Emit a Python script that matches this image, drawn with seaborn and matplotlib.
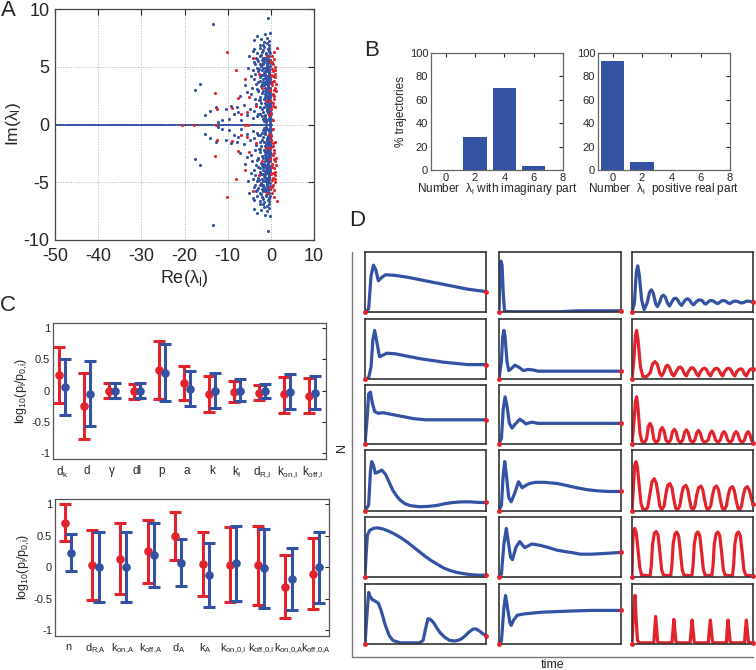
import numpy as np
import pandas as pd
import matplotlib
matplotlib.use('Agg')
import matplotlib.pyplot as plt
import seaborn as sns
from matplotlib.lines import Line2D

sns.set_style('white')
plt.rcParams['font.family'] = ['Liberation Sans', 'DejaVu Sans']
plt.rcParams['mathtext.fontset'] = 'custom'
plt.rcParams['mathtext.rm'] = 'Liberation Sans'
plt.rcParams['mathtext.it'] = 'Liberation Sans:italic'
plt.rcParams['axes.unicode_minus'] = False

W, H = 756, 670
BLUE = '#3452a3'
RED = '#e3232b'

# ---- panel A : eigenvalues (upper half plane, conjugates mirrored) ----
blue_re = [-0.2, -0.5, -0.9, -1.3, -1.8, -2.4, -3.1, -4.2, -5.5, -6.8,
           -0.1, -0.7, -1.1, -1.6, -2.1, -7.5, -8.6, -9.8, -11.2, -12.3,
           -0.3, -0.6, -1.0, -1.4, -1.9, -2.6, -3.4, -4.8, -6.2, -7.9,
           -0.15, -0.8, -1.2, -2.2, -3.8, -9.2, -10.5, -12.6, -14.1, -15.2,
           -0.2, -0.5, -0.9, -1.2, -1.6, -2.0, -2.5, -3.0, -3.7, -4.5,
           -0.4, -0.7, -1.1, -1.4, -1.8, -2.8, -5.6, -7.1, -16.5, -17.5,
           -0.1, -0.4, -0.8, -1.1, -1.5, -1.9, -2.3, -2.9, -3.5, -4.3,
           -0.3, -0.6, -1.0, -1.3, -1.7, -2.1, -2.6, -3.2, -4.0, -6.0,
           -0.2, -0.5, -0.9, -1.2, -1.6, -2.0, -2.4, -2.9, -3.6, -4.6,
           -0.4, -0.7, -1.0, -1.4, -1.8, -2.2, -2.7, -3.3, -4.1, -5.2,
           -0.2, -0.6, -0.9, -1.3, -1.7, -2.1, -2.6, -3.2, -4.0, -5.0,
           -0.4, -0.8, -1.1, -1.5, -1.9, -2.4, -2.9, -3.6, -0.1, -1.0,
           -0.3, -0.7, -1.1, -1.5, -2.0, -2.6, -3.3, -4.2, -0.5, -1.8,
           -0.4, -1.0, -1.6, -2.3, -3.1, -4.0, -0.3, -1.3, -0.6, -13.5,
           -0.05, -0.25, -0.45, -0.65, -0.85, -1.05, -1.25, -1.45, -0.35, -0.75,
           -0.15, -0.55, -0.95, -1.35, -0.3, -0.7, -1.15, -0.2, -0.6, -1.0,
           -0.1, -0.5, -0.9, -1.7, -0.35, -0.8, -1.2, -0.45, -0.25, -0.05,
           -0.1, -0.05, -0.12, -0.08, -0.03, -0.1, -0.06, -0.14, -0.09, -0.04,
           -0.32, -0.58, -0.87, -1.12, -1.38, -1.66, -1.94, -2.27, -2.62, -3.05,
           -0.12, -0.43, -0.72, -1.02, -1.27, -1.53, -1.82, -2.13, -2.48, -2.86,
           -0.27, -0.52, -0.78, -1.07, -1.33, -1.62, -0.08, -0.38, -0.68, -0.97,
           -0.22, -0.48, -0.82, -1.18, -1.46, -1.74, -2.04, -2.36, -3.42, -3.92,
           -0.02, -0.18, -0.36, -0.54, -0.72, -0.92, -1.16, -1.42, -0.66, -0.44]
blue_im = [0.3, 0.6, 0.4, 0.8, 0.5, 0.9, 0.7, 0.6, 0.8, 0.4,
           0.9, 1.0, 0.2, 0.3, 0.7, 1.1, 0.9, 0.5, 0.4, 0.2,
           1.2, 1.6, 1.4, 1.9, 1.1, 1.5, 1.8, 1.3, 1.7, 1.5,
           1.8, 1.3, 1.7, 1.9, 1.2, 1.6, 1.3, 1.5, 1.2, 0.8,
           2.1, 2.6, 2.3, 2.8, 2.2, 2.7, 2.4, 2.9, 2.2, 2.6,
           2.9, 2.2, 2.7, 2.4, 2.9, 2.1, 2.8, 2.5, 3.5, 3.0,
           3.2, 3.6, 3.1, 3.8, 3.4, 3.9, 3.3, 3.7, 3.5, 3.2,
           3.9, 3.3, 3.5, 3.2, 3.7, 3.5, 3.8, 3.1, 3.9, 3.4,
           4.1, 4.5, 4.2, 4.8, 4.3, 4.7, 4.1, 4.6, 4.4, 4.2,
           4.8, 4.2, 4.6, 4.4, 4.9, 4.3, 4.8, 4.9, 4.7, 4.9,
           5.1, 5.5, 5.2, 5.8, 5.3, 5.6, 5.2, 5.7, 5.4, 5.9,
           5.9, 5.1, 5.6, 5.4, 5.8, 5.9, 5.5, 5.2, 5.6, 5.95,
           6.2, 6.5, 6.1, 6.7, 6.3, 6.6, 6.2, 6.4, 6.9, 6.9,
           7.2, 7.5, 7.1, 7.4, 7.7, 7.3, 7.9, 7.8, 9.2, 8.7,
           0.5, 1.1, 1.5, 2.0, 2.5, 3.0, 3.5, 4.0, 4.4, 4.9,
           5.3, 5.7, 6.0, 0.6, 1.4, 1.8, 2.5, 2.8, 3.4, 3.8,
           4.3, 4.6, 5.0, 5.2, 6.4, 1.2, 2.0, 2.3, 3.0, 3.6,
           0.15, 0.35, 0.55, 0.75, 0.95, 1.15, 1.35, 1.55, 1.75, 1.95,
           0.45, 1.25, 2.05, 2.85, 3.65, 4.45, 5.25, 6.05, 6.85, 0.95,
           1.65, 2.45, 3.25, 4.05, 4.85, 5.65, 6.45, 1.35, 2.15, 2.95,
           3.75, 4.55, 5.35, 6.15, 0.75, 1.55, 2.35, 3.15, 3.95, 4.75,
           5.55, 6.35, 7.05, 0.35, 2.65, 3.45, 4.25, 5.05, 5.75, 6.55,
           2.55, 3.05, 1.85, 2.75, 3.55, 1.65, 4.15, 4.65, 5.85, 6.65]
red_re = [0.1, 0.5, 0.8, 1.1, 0.3, 0.7, 1.0, 0.2, 0.6, 0.9,
          0.4, 0.8, 1.2, 0.0, 0.5, 0.9, -0.2, 0.3, 0.7, 1.4,
          -0.5, -1.2, -2.0, -2.8, -3.5, -4.2, -5.0, -6.0, -7.5, -8.1,
          -10.2, -12.5, -13.0, -9.0, -6.8, -5.5, -0.3, 0.6, 1.0, -0.8,
          0.15, 0.45, 0.75, 1.05, 0.25, 0.55, 0.85, 0.35, 0.65, -0.1]
red_im = [1.0, 1.6, 2.2, 2.9, 3.4, 3.8, 4.4, 4.8, 5.2, 4.1,
          2.6, 3.0, 3.5, 4.3, 4.6, 5.0, 5.5, 5.9, 6.3, 6.6,
          0.8, 2.0, 3.2, 4.4, 1.6, 5.8, 2.4, 3.9, 2.3, 4.7,
          6.3, 1.3, 2.7, 1.4, 0.9, 1.1, 2.0, 0.4, 1.5, 5.9,
          1.3, 1.9, 2.5, 3.2, 3.7, 4.2, 4.7, 5.4, 5.7, 3.0]
real_blue = [-49.9, -49.1, -48.5, -47.7, -47.0, -46.2, -45.6, -44.8, -44.1, -43.4,
             -42.6, -42.0, -41.2, -40.5, -39.8, -39.1, -38.3, -37.6, -36.9, -36.2,
             -35.4, -34.8, -34.0, -33.3, -32.6, -31.8, -31.2, -30.4, -29.7, -29.0,
             -28.3, -27.5, -26.9, -26.1, -25.4, -24.7, -24.0, -23.2, -22.6, -21.8,
             -21.1, -20.4, -19.7, -19.0, -18.2, -17.6, -16.8, -16.1, -15.4, -14.7,
             -14.0, -13.3, -12.5, -11.9, -11.1, -10.4, -9.7, -9.0, -8.3, -7.5,
             -6.9, -6.1, -5.4, -4.7, -4.0, -3.3, -2.6, -1.9, -1.2, -0.5, -0.1]
real_red = [-20.5, -17.8, -12.8, -6.0, -5.2]

# ---- panel B : histograms ----
b_x = [0, 2, 4, 6]
b_imag = [0, 28, 70, 3]
b_pos = [93, 7, 0, 0]

# ---- panel C : parameter ratios ----
c_top_names = ['d$_\\mathrm{k}$', 'd', 'γ', 'dl', 'p', 'a', 'k', 'k$_\\mathrm{I}$',
               'd$_\\mathrm{R{,}I}$', 'k$_\\mathrm{on{,}I}$', 'k$_\\mathrm{off{,}I}$']
top_red_mean = [0.25, -0.24, 0.0, -0.01, 0.33, 0.12, -0.05, -0.02, -0.03, -0.06, -0.08]
top_red_hi = [0.70, 0.28, 0.12, 0.11, 0.79, 0.39, 0.24, 0.16, 0.09, 0.22, 0.20]
top_red_lo = [-0.20, -0.765, -0.12, -0.13, -0.13, -0.155, -0.34, -0.18, -0.15, -0.35, -0.35]
top_blue_mean = [0.06, -0.05, 0.0, 0.0, 0.29, 0.03, 0.0, 0.0, 0.0, -0.02, -0.03]
top_blue_hi = [0.51, 0.48, 0.13, 0.12, 0.75, 0.31, 0.29, 0.18, 0.11, 0.26, 0.24]
top_blue_lo = [-0.385, -0.57, -0.11, -0.12, -0.17, -0.24, -0.28, -0.16, -0.12, -0.30, -0.30]

c_bot_names = ['n', 'd$_\\mathrm{R{,}A}$', 'k$_\\mathrm{on{,}A}$', 'k$_\\mathrm{off{,}A}$', 'd$_\\mathrm{A}$',
               'k$_\\mathrm{A}$', 'k$_\\mathrm{on{,}0{,}I}$', 'k$_\\mathrm{off{,}0{,}I}$',
               'k$_\\mathrm{on{,}0{,}A}$', 'k$_\\mathrm{off{,}0{,}A}$']
bot_red_mean = [0.70, 0.03, 0.13, 0.25, 0.50, 0.05, 0.04, 0.03, -0.31, -0.11]
bot_red_hi = [1.0, 0.59, 0.70, 0.75, 0.87, 0.56, 0.63, 0.66, 0.19, 0.46]
bot_red_lo = [0.41, -0.52, -0.42, -0.25, 0.12, -0.46, -0.55, -0.60, -0.80, -0.67]
bot_blue_mean = [0.23, 0.0, 0.0, 0.19, 0.07, -0.13, 0.06, -0.02, -0.18, 0.0]
bot_blue_hi = [0.52, 0.55, 0.56, 0.70, 0.44, 0.38, 0.66, 0.61, 0.31, 0.56]
bot_blue_lo = [-0.06, -0.55, -0.55, -0.31, -0.30, -0.63, -0.54, -0.64, -0.68, -0.56]

# ---- panel D : example trajectories (time, N) normalised to box ----
d_r1c1 = [(0, 0), (0.03, 0.05), (0.05, 0.6), (0.07, 0.78), (0.09, 0.7), (0.11, 0.52), (0.14, 0.58),
          (0.17, 0.62), (0.25, 0.61), (0.35, 0.58), (0.45, 0.54), (0.55, 0.5), (0.65, 0.46),
          (0.75, 0.42), (0.85, 0.38), (1.0, 0.34)]
d_r2c1 = [(0, 0), (0.03, 0.02), (0.05, 0.2), (0.065, 0.65), (0.08, 0.81), (0.095, 0.65), (0.12, 0.37),
          (0.15, 0.4), (0.18, 0.43), (0.25, 0.42), (0.35, 0.38), (0.45, 0.34), (0.55, 0.31),
          (0.65, 0.28), (0.75, 0.26), (0.85, 0.24), (1.0, 0.24)]
d_r3c1 = [(0, 0), (0.02, 0.5), (0.03, 0.85), (0.045, 0.88), (0.06, 0.7), (0.08, 0.55), (0.11, 0.52),
          (0.15, 0.53), (0.2, 0.51), (0.3, 0.47), (0.4, 0.43), (0.5, 0.41), (0.6, 0.41), (1.0, 0.41)]
d_r4c1 = [(0, 0), (0.03, 0.1), (0.045, 0.65), (0.055, 0.81), (0.07, 0.75), (0.085, 0.62), (0.11, 0.64),
          (0.14, 0.67), (0.17, 0.6), (0.2, 0.47), (0.23, 0.34), (0.26, 0.25), (0.29, 0.18),
          (0.33, 0.12), (0.37, 0.09), (0.45, 0.07), (0.52, 0.075), (0.59, 0.09), (0.66, 0.12),
          (0.73, 0.14), (0.8, 0.15), (0.87, 0.15), (0.94, 0.14), (1.0, 0.14)]
d_r5c1 = [(0, 0), (0.01, 0.4), (0.02, 0.7), (0.04, 0.78), (0.07, 0.81), (0.1, 0.82), (0.15, 0.8),
          (0.2, 0.76), (0.25, 0.71), (0.3, 0.65), (0.35, 0.58), (0.4, 0.5), (0.45, 0.42),
          (0.5, 0.34), (0.55, 0.27), (0.6, 0.21), (0.65, 0.15), (0.7, 0.11), (0.75, 0.08),
          (0.8, 0.06), (0.85, 0.045), (0.9, 0.035), (0.95, 0.03), (1.0, 0.03)]
d_r6c1 = [(0, 0), (0.02, 0.6), (0.03, 0.86), (0.04, 0.8), (0.06, 0.74), (0.08, 0.72), (0.11, 0.68),
          (0.13, 0.58), (0.15, 0.44), (0.17, 0.3), (0.2, 0.14), (0.23, 0.06), (0.29, 0.02),
          (0.35, 0.02), (0.45, 0.02), (0.48, 0.06), (0.5, 0.25), (0.52, 0.42), (0.54, 0.41),
          (0.565, 0.36), (0.59, 0.28), (0.62, 0.19), (0.66, 0.11), (0.7, 0.06), (0.74, 0.05),
          (0.77, 0.06), (0.8, 0.09), (0.83, 0.14), (0.86, 0.2), (0.895, 0.25), (0.92, 0.25),
          (0.95, 0.21), (0.975, 0.17), (1.0, 0.14)]

d_r1c2 = [(0, 0), (0.008, 0.6), (0.016, 0.85), (0.025, 0.78), (0.035, 0.3), (0.045, 0.01),
          (0.1, 0.005), (0.5, 0.005), (0.65, 0.02), (1.0, 0.02)]
d_r2c2 = [(0, 0), (0.02, 0.3), (0.03, 0.7), (0.04, 0.81), (0.05, 0.7), (0.065, 0.3), (0.08, 0.14),
          (0.1, 0.17), (0.13, 0.23), (0.16, 0.2), (0.2, 0.14), (0.24, 0.16), (0.28, 0.15),
          (0.32, 0.13), (0.4, 0.13), (0.6, 0.13), (1.0, 0.13)]
d_r3c2 = [(0, 0), (0.02, 0.1), (0.035, 0.6), (0.05, 0.8), (0.065, 0.65), (0.085, 0.35), (0.107, 0.27),
          (0.13, 0.33), (0.17, 0.42), (0.2, 0.38), (0.22, 0.34), (0.25, 0.36), (0.27, 0.37),
          (0.32, 0.35), (0.4, 0.35), (1.0, 0.35)]
d_r4c2 = [(0, 0), (0.02, 0.1), (0.035, 0.6), (0.047, 0.81), (0.06, 0.6), (0.08, 0.22), (0.1, 0.15),
          (0.13, 0.3), (0.16, 0.48), (0.19, 0.38), (0.22, 0.42), (0.25, 0.45), (0.3, 0.47),
          (0.37, 0.47), (0.43, 0.46), (0.48, 0.45), (0.55, 0.42), (0.64, 0.38), (0.72, 0.35),
          (0.81, 0.33), (0.9, 0.32), (1.0, 0.32)]
d_r5c2 = [(0, 0), (0.02, 0.05), (0.04, 0.55), (0.06, 0.81), (0.075, 0.6), (0.095, 0.33), (0.11, 0.29),
          (0.14, 0.5), (0.17, 0.59), (0.21, 0.49), (0.24, 0.52), (0.27, 0.55), (0.33, 0.53),
          (0.39, 0.5), (0.47, 0.45), (0.55, 0.42), (0.59, 0.41), (0.67, 0.38), (0.75, 0.38),
          (0.85, 0.39), (1.0, 0.41)]
d_r6c2 = [(0, 0), (0.02, 0.05), (0.04, 0.6), (0.054, 0.81), (0.07, 0.6), (0.09, 0.35), (0.1, 0.31),
          (0.12, 0.4), (0.15, 0.48), (0.2, 0.5), (0.25, 0.51), (0.35, 0.53), (0.47, 0.54),
          (0.6, 0.55), (0.75, 0.56), (1.0, 0.56)]

d_r1c3 = [(0, 0), (0.02, 0.15), (0.035, 0.65), (0.047, 0.77), (0.06, 0.62), (0.08, 0.2), (0.1, 0.04),
          (0.125, 0.15), (0.145, 0.33), (0.16, 0.37), (0.175, 0.32), (0.195, 0.14), (0.21, 0.09),
          (0.23, 0.17), (0.245, 0.26), (0.26, 0.28), (0.275, 0.25), (0.295, 0.14), (0.31, 0.10),
          (0.33, 0.17), (0.345, 0.22), (0.36, 0.23), (0.375, 0.21), (0.395, 0.14), (0.41, 0.11),
          (0.43, 0.17), (0.445, 0.21), (0.46, 0.22), (0.475, 0.2), (0.495, 0.14), (0.51, 0.12),
          (0.53, 0.17), (0.55, 0.2), (0.565, 0.2), (0.58, 0.19), (0.595, 0.15), (0.61, 0.13),
          (0.63, 0.17), (0.645, 0.19), (0.66, 0.19), (0.675, 0.18), (0.695, 0.15), (0.71, 0.14),
          (0.73, 0.17), (0.745, 0.19), (0.76, 0.19), (0.775, 0.18), (0.795, 0.15), (0.81, 0.14),
          (0.83, 0.17), (0.845, 0.18), (0.86, 0.18), (0.875, 0.175), (0.895, 0.155), (0.91, 0.15),
          (0.93, 0.165), (0.945, 0.18), (0.96, 0.18), (0.975, 0.175), (1.0, 0.17)]
d_r2c3 = [(0, 0), (0.015, 0.3), (0.028, 0.72), (0.038, 0.81), (0.05, 0.65), (0.07, 0.2), (0.09, 0.04),
          (0.12, 0.04), (0.15, 0.1), (0.17, 0.25), (0.19, 0.29), (0.21, 0.24), (0.23, 0.09), (0.245, 0.05),
          (0.265, 0.12), (0.28, 0.21), (0.294, 0.23), (0.31, 0.19), (0.33, 0.08), (0.345, 0.05),
          (0.365, 0.12), (0.385, 0.19), (0.40, 0.2), (0.415, 0.17), (0.435, 0.08), (0.45, 0.05),
          (0.465, 0.12), (0.485, 0.18), (0.50, 0.19), (0.515, 0.16), (0.535, 0.08), (0.55, 0.05),
          (0.565, 0.12), (0.585, 0.17), (0.60, 0.18), (0.615, 0.16), (0.635, 0.08), (0.65, 0.05),
          (0.665, 0.12), (0.685, 0.17), (0.70, 0.18), (0.715, 0.16), (0.735, 0.08), (0.75, 0.05),
          (0.765, 0.12), (0.785, 0.17), (0.80, 0.18), (0.815, 0.16), (0.835, 0.08), (0.85, 0.05),
          (0.865, 0.12), (0.885, 0.16), (0.90, 0.17), (0.915, 0.15), (0.93, 0.08), (0.945, 0.05),
          (0.96, 0.11), (0.975, 0.16), (0.99, 0.17), (1.0, 0.165)]
d_r3c3 = [(0, 0), (0.015, 0.35), (0.028, 0.72), (0.038, 0.8), (0.05, 0.6), (0.065, 0.2), (0.08, 0.05), (0.1, 0.02),
          (0.12, 0.08), (0.135, 0.3), (0.15, 0.35), (0.165, 0.28), (0.18, 0.08), (0.2, 0.02),
          (0.22, 0.07), (0.235, 0.24), (0.25, 0.28), (0.265, 0.22), (0.28, 0.07), (0.3, 0.02),
          (0.32, 0.07), (0.335, 0.21), (0.35, 0.25), (0.365, 0.2), (0.38, 0.07), (0.4, 0.02),
          (0.42, 0.07), (0.435, 0.2), (0.45, 0.24), (0.465, 0.19), (0.48, 0.07), (0.5, 0.02),
          (0.52, 0.07), (0.535, 0.19), (0.55, 0.23), (0.565, 0.18), (0.58, 0.07), (0.6, 0.02),
          (0.63, 0.07), (0.645, 0.18), (0.66, 0.22), (0.675, 0.17), (0.69, 0.07), (0.71, 0.02),
          (0.73, 0.07), (0.745, 0.17), (0.76, 0.21), (0.775, 0.17), (0.79, 0.07), (0.81, 0.02),
          (0.83, 0.07), (0.845, 0.17), (0.86, 0.21), (0.875, 0.17), (0.89, 0.07), (0.91, 0.02),
          (0.93, 0.07), (0.945, 0.17), (0.96, 0.21), (0.975, 0.16), (0.99, 0.05), (1.0, 0.02)]
d_r4c3 = [(0, 0), (0.012, 0.4), (0.022, 0.75), (0.033, 0.81), (0.045, 0.72), (0.06, 0.4), (0.075, 0.12),
          (0.09, 0.03), (0.11, 0.02),
          (0.13, 0.06), (0.15, 0.3), (0.165, 0.48), (0.184, 0.53), (0.2, 0.46), (0.215, 0.28), (0.23, 0.08), (0.245, 0.02),
          (0.265, 0.08), (0.28, 0.28), (0.295, 0.42), (0.313, 0.45), (0.33, 0.38), (0.345, 0.2), (0.36, 0.05), (0.375, 0.02),
          (0.395, 0.08), (0.41, 0.27), (0.425, 0.39), (0.445, 0.42), (0.46, 0.36), (0.475, 0.19), (0.49, 0.05), (0.505, 0.02),
          (0.52, 0.08), (0.535, 0.26), (0.55, 0.38), (0.569, 0.41), (0.585, 0.35), (0.6, 0.18), (0.615, 0.05), (0.63, 0.02),
          (0.65, 0.08), (0.665, 0.26), (0.68, 0.38), (0.698, 0.41), (0.715, 0.35), (0.73, 0.18), (0.745, 0.05), (0.76, 0.02),
          (0.78, 0.08), (0.795, 0.26), (0.81, 0.37), (0.83, 0.40), (0.845, 0.34), (0.86, 0.18), (0.875, 0.05), (0.89, 0.02),
          (0.905, 0.08), (0.92, 0.26), (0.935, 0.37), (0.953, 0.40), (0.97, 0.34), (0.985, 0.22), (1.0, 0.12)]
d_r5c3 = [(0, 0), (0.005, 0.5), (0.012, 0.76), (0.022, 0.81), (0.035, 0.74), (0.05, 0.45), (0.065, 0.15),
          (0.08, 0.03), (0.15, 0.02),
          (0.16, 0.2), (0.17, 0.55), (0.185, 0.73), (0.2, 0.76), (0.215, 0.7), (0.23, 0.42), (0.245, 0.12), (0.26, 0.03), (0.32, 0.02),
          (0.33, 0.2), (0.34, 0.55), (0.355, 0.72), (0.37, 0.75), (0.385, 0.69), (0.4, 0.42), (0.415, 0.12), (0.43, 0.03), (0.495, 0.02),
          (0.505, 0.2), (0.515, 0.55), (0.53, 0.72), (0.545, 0.75), (0.56, 0.69), (0.575, 0.42), (0.59, 0.12), (0.605, 0.03), (0.66, 0.02),
          (0.67, 0.2), (0.68, 0.55), (0.695, 0.72), (0.71, 0.75), (0.725, 0.69), (0.74, 0.42), (0.755, 0.12), (0.77, 0.03), (0.83, 0.02),
          (0.84, 0.2), (0.85, 0.55), (0.865, 0.72), (0.88, 0.75), (0.895, 0.69), (0.91, 0.42), (0.925, 0.12), (0.94, 0.03), (1.0, 0.02)]
d_r6c3 = [(0, 0), (0.012, 0.5), (0.025, 0.81), (0.035, 0.4), (0.045, 0.06), (0.06, 0.02),
          (0.18, 0.02), (0.19, 0.3), (0.195, 0.46), (0.202, 0.3), (0.212, 0.04), (0.225, 0.02),
          (0.33, 0.02), (0.34, 0.26), (0.346, 0.41), (0.353, 0.26), (0.363, 0.04), (0.375, 0.02),
          (0.48, 0.02), (0.49, 0.25), (0.497, 0.4), (0.504, 0.25), (0.514, 0.04), (0.525, 0.02),
          (0.63, 0.02), (0.64, 0.25), (0.648, 0.4), (0.655, 0.25), (0.665, 0.04), (0.675, 0.02),
          (0.78, 0.02), (0.787, 0.25), (0.794, 0.4), (0.801, 0.25), (0.811, 0.04), (0.82, 0.02),
          (0.93, 0.02), (0.938, 0.25), (0.945, 0.4), (0.952, 0.25), (0.962, 0.04), (0.972, 0.02), (1.0, 0.02)]

d_grid = [[d_r1c1, d_r1c2, d_r1c3],
          [d_r2c1, d_r2c2, d_r2c3],
          [d_r3c1, d_r3c2, d_r3c3],
          [d_r4c1, d_r4c2, d_r4c3],
          [d_r5c1, d_r5c2, d_r5c3],
          [d_r6c1, d_r6c2, d_r6c3]]
d_colors = [[BLUE, BLUE, BLUE],
            [BLUE, BLUE, RED],
            [BLUE, BLUE, RED],
            [BLUE, BLUE, RED],
            [BLUE, BLUE, RED],
            [BLUE, BLUE, RED]]

fig = plt.figure(figsize=(7.56, 6.70), dpi=100)


def px_axes(x0, y0, x1, y1):
    return fig.add_axes([x0 / W, 1 - y1 / H, (x1 - x0) / W, (y1 - y0) / H])


def px_text(x, y, s, **kw):
    fig.text(x / W, 1 - y / H, s, **kw)


def frame(ax, color='#444444', lw=0.9):
    for sp in ax.spines.values():
        sp.set_visible(True)
        sp.set_color(color)
        sp.set_linewidth(lw)


# ---------------- A ----------------
axA = px_axes(55, 9, 314, 240)
eig_blue = pd.DataFrame({'re': blue_re + blue_re,
                         'im': blue_im + [-v for v in blue_im]})
eig_red = pd.DataFrame({'re': red_re + red_re + real_red,
                        'im': red_im + [-v for v in red_im] + [0.0] * len(real_red)})
eig_real = pd.DataFrame({'re': real_blue, 'im': [0.0] * len(real_blue)})
sns.scatterplot(data=eig_real, x='re', y='im', ax=axA, color=BLUE, marker='_', s=14, linewidth=1.2)
sns.scatterplot(data=eig_blue, x='re', y='im', ax=axA, color=BLUE, s=5, linewidth=0)
sns.scatterplot(data=eig_red, x='re', y='im', ax=axA, color=RED, s=5, linewidth=0)
axA.set_xlim(-50, 10)
axA.set_ylim(-10, 10)
axA.set_xticks([-50, -40, -30, -20, -10, 0, 10])
axA.set_yticks([-10, -5, 0, 5, 10])
axA.grid(True, ls=':', color='#b0b0b0', lw=0.7)
axA.tick_params(axis='x', direction='in', length=4, labelsize=13, top=True, pad=6)
axA.tick_params(axis='y', direction='in', length=4, labelsize=13, right=True, pad=4)
axA.set_xlabel('Re(λ$_\\mathrm{l}$)', fontsize=13, labelpad=2)
axA.set_ylabel('Im(λ$_\\mathrm{l}$)', fontsize=12.5)
axA.yaxis.set_label_coords(-0.125, 0.5)
frame(axA)

# ---------------- B ----------------
for (x0, x1), vals, lab in [((431, 563), b_imag, 'Number  λ$_\\mathrm{l}$ with imaginary part'),
                            ((598, 730), b_pos, 'Number  λ$_\\mathrm{l}$  positive real part')]:
    ax = px_axes(x0, 53, x1, 170)
    sns.barplot(x=b_x, y=vals, ax=ax, native_scale=True, width=0.8, color=BLUE,
                saturation=1, edgecolor='none')
    ax.set_xlim(-1, 8)
    ax.set_ylim(0, 100)
    ax.set_xticks([0, 2, 4, 6, 8])
    ax.set_yticks([0, 20, 40, 60, 80, 100])
    ax.tick_params(direction='in', length=3, labelsize=8, top=True, right=True, pad=2)
    ax.set_xlabel(lab, fontsize=8.5, labelpad=-1)
    ax.set_ylabel('')
    frame(ax, '#666666', 0.9)
    if x0 == 431:
        ax.set_ylabel('% trajectories', fontsize=8.5, labelpad=2)

# ---------------- C ----------------
for (y0, y1, x0, x1), names, rm, rh, rl, bm, bh, bl, xl, fs in [
        ((323, 459, 53, 326), c_top_names, top_red_mean, top_red_hi, top_red_lo,
         top_blue_mean, top_blue_hi, top_blue_lo, (0.64, 11.56), 8.5),
        ((499, 636, 55, 329), c_bot_names, bot_red_mean, bot_red_hi, bot_red_lo,
         bot_blue_mean, bot_blue_hi, bot_blue_lo, (0.53, 10.47), 7.8)]:
    ax = px_axes(x0, y0, x1, y1)
    pos = np.arange(1, len(names) + 1)
    for off, m, hi, lo, col in [(-0.11, rm, rh, rl, RED), (0.11, bm, bh, bl, BLUE)]:
        m = np.array(m)
        ax.errorbar(pos + off, m, yerr=[m - np.array(lo), np.array(hi) - m], fmt='none',
                    ecolor=col, elinewidth=2.2, capsize=4.5, capthick=2.2)
        sns.scatterplot(x=pos + off, y=m, ax=ax, color=col, s=38, linewidth=0, zorder=5)
    ax.set_xlim(*xl)
    ax.set_ylim(-1.09, 1.08)
    ax.set_yticks([-1, -0.5, 0, 0.5, 1])
    ax.set_yticklabels(['-1', '-0.5', '0', '0.5', '1'])
    ax.set_xticks(pos)
    ax.set_xticklabels(names)
    ax.tick_params(axis='y', direction='in', length=3, labelsize=8, right=True, pad=2)
    ax.tick_params(axis='x', direction='in', length=0, labelsize=fs, pad=4)
    ax.set_ylabel('log$_{10}$(p$_\\mathrm{i}$/p$_\\mathrm{0{,}i}$)', fontsize=9, labelpad=1)
    frame(ax, '#555555', 0.9)

# ---------------- D ----------------
cols = [(365, 486), (499, 621), (632, 753)]
rows = [(252, 312), (319, 379), (385, 444), (450, 511), (517, 577), (584, 644)]
for i, (ry0, ry1) in enumerate(rows):
    for j, (cx0, cx1) in enumerate(cols):
        ax = px_axes(cx0, ry0, cx1, ry1)
        pts = d_grid[i][j]
        t = [p[0] for p in pts]
        y = [p[1] for p in pts]
        sns.lineplot(x=t, y=y, ax=ax, color=d_colors[i][j], lw=2.3, sort=False, estimator=None)
        ax.plot([t[0], t[-1]], [y[0], y[-1]], 'o', color=RED, ms=2.5, clip_on=False, zorder=6)
        ax.set_xlim(0, 1)
        ax.set_ylim(0, 1)
        ax.set_xticks([])
        ax.set_yticks([])
        frame(ax, '#333333', 1.2)

fig.add_artist(Line2D([352 / W, 352 / W, 753 / W], [1 - 252 / H, 1 - 657 / H, 1 - 657 / H],
                      color='#777777', lw=1.0))
px_text(342, 447, 'N', rotation=90, ha='center', va='center', fontsize=9)
px_text(553, 665, 'time', ha='center', va='center', fontsize=9)

# panel letters
px_text(8, 10, 'A', ha='center', va='center', fontsize=16)
px_text(372, 50, 'B', ha='center', va='center', fontsize=16)
px_text(8, 306, 'C', ha='center', va='center', fontsize=16)
px_text(357, 220, 'D', ha='center', va='center', fontsize=16)

fig.savefig('out.png', dpi=100)
